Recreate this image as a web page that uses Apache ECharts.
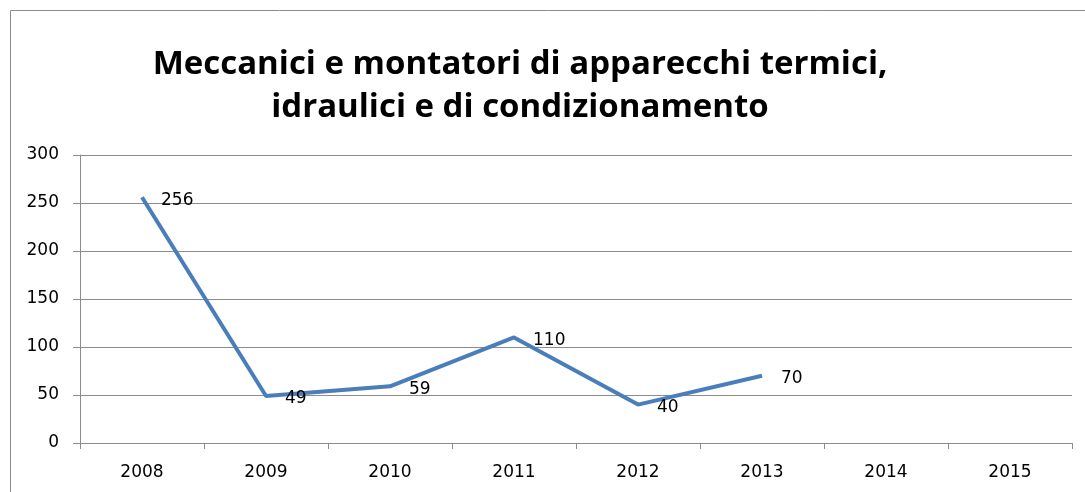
<!DOCTYPE html>
<html>
<head>
<meta charset="utf-8">
<script src="https://cdn.jsdelivr.net/npm/echarts@6/dist/echarts.min.js"></script>
<style>
  html, body { margin: 0; padding: 0; background: #fff; }
  #main { width: 1085px; height: 492px; }
</style>
</head>
<body>
<div id="main"></div>
<script>
var years = ["2008", "2009", "2010", "2011", "2012", "2013", "2014", "2015"];
var values = [256, 49, 59, 110, 40, 70, null, null];
var titleLines = ["Meccanici e montatori di apparecchi termici,", "idraulici e di condizionamento"];

var myChart = echarts.init(document.getElementById("main"));
myChart.setOption({
  backgroundColor: "#fff",
  animation: false,
  graphic: [
    {
      // frame round the chart area
      type: "rect",
      shape: { x: 10.5, y: 10.5, width: 1100, height: 500 },
      style: { fill: null, stroke: "#8c8c8c", lineWidth: 1 },
      silent: true
    }
  ],
  title: {
    text: titleLines.join("\n"),
    left: 515,
    top: 38,
    textAlign: "center",
    textStyle: {
      fontFamily: "Open Sans",
      fontWeight: "bold",
      fontSize: 33,
      lineHeight: 43,
      color: "#000"
    }
  },
  grid: {
    left: 80,
    right: 13,
    top: 155,
    bottom: 49
  },
  xAxis: {
    type: "category",
    data: years,
    boundaryGap: true,
    axisLine: { lineStyle: { color: "#8c8c8c", width: 1 } },
    axisTick: { show: true, alignWithLabel: false, length: 6, lineStyle: { color: "#8c8c8c" } },
    axisLabel: { color: "#000", fontFamily: "DejaVu Sans", fontSize: 17, margin: 21 }
  },
  yAxis: {
    type: "value",
    min: 0,
    max: 300,
    interval: 50,
    axisLine: { show: true, lineStyle: { color: "#8c8c8c", width: 1 } },
    axisTick: { show: true, inside: false, length: 7, lineStyle: { color: "#8c8c8c" } },
    splitLine: { show: true, lineStyle: { color: "#8c8c8c", width: 1 } },
    axisLabel: { color: "#000", fontFamily: "DejaVu Sans", fontSize: 17, margin: 21 }
  },
  series: [
    {
      name: "Meccanici",
      type: "line",
      data: values,
      symbol: "circle",
      symbolSize: 2,
      showSymbol: true,
      connectNulls: false,
      lineStyle: { color: "#4a7ebb", width: 4 },
      itemStyle: { color: "transparent", borderWidth: 0 },
      label: {
        show: true,
        position: "right",
        distance: 19,
        offset: [-1, 3],
        color: "#000",
        fontFamily: "DejaVu Sans",
        fontSize: 17
      }
    }
  ]
});
</script>
</body>
</html>
